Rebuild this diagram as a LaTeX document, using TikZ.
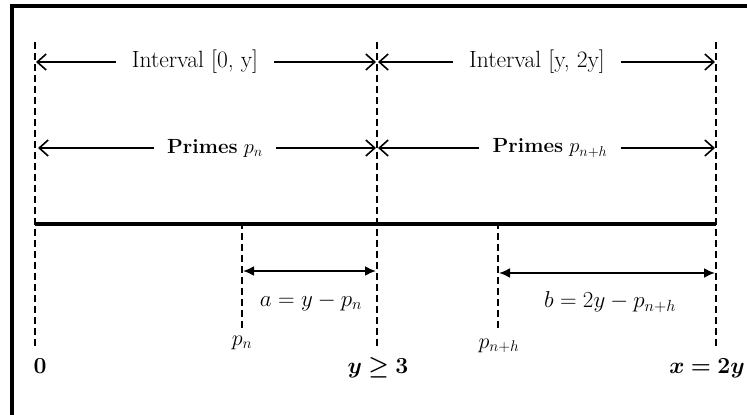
\RequirePackage{fix-cm}
\documentclass[tikz,border=0pt]{standalone}
\usepackage{amsmath}
\usepackage{bm}
\usetikzlibrary{arrows.meta}
\begin{document}
\begin{tikzpicture}[x=1pt,y=-1pt,
  vline/.style={line width=2.4pt,dash pattern=on 7pt off 4pt},
  open/.style={line width=1.4pt,-{Straight Barb[length=9pt,width=16pt,line width=1.6pt]}},
  solid/.style={line width=2pt,{Latex[length=11pt,width=10pt]}-{Latex[length=11pt,width=10pt]}},
  lab/.style={inner sep=0pt,font=\fontsize{23}{27}\selectfont},
  gaplab/.style={inner xsep=16pt,inner ysep=0pt,font=\fontsize{23.5}{27}\selectfont},
  gaplabp/.style={inner xsep=13pt,inner ysep=0pt,font=\fontsize{20.5}{24}\selectfont},
  small/.style={inner sep=0pt,font=\fontsize{22}{26}\selectfont}]
\useasboundingbox (0,0) rectangle (747,415);
% frame (top and left sides visible)
\coordinate (fbl) at (12,415);
\coordinate (ftl) at (12,6);
\coordinate (ftr) at (747,6);
\draw[line width=4pt] (fbl) -- (ftl) -- (ftr);
% vertical dashed lines
\coordinate (v0t) at (35,42);  \coordinate (v0b) at (35,346);
\coordinate (v1t) at (377,42); \coordinate (v1b) at (377,346);
\coordinate (v2t) at (716,42); \coordinate (v2b) at (716,346);
\coordinate (pnt) at (242,222); \coordinate (pnb) at (242,328);
\coordinate (pht) at (498,222); \coordinate (phb) at (498,330);
\draw[vline] (v0t) -- (v0b);
\draw[vline] (v1t) -- (v1b);
\draw[vline] (v2t) -- (v2b);
\draw[vline] (pnt) -- (pnb);
\draw[vline] (pht) -- (phb);
% thick axis
\coordinate (ax0) at (35,224); \coordinate (ax1) at (716,224);
\draw[line width=4.5pt] (ax0) -- (ax1);
% row 1
\coordinate (r1a) at (36,62); \coordinate (r1b) at (376,62);
\coordinate (r1c) at (378,62); \coordinate (r1d) at (715,62);
\node[gaplab] (i1) at (195,62) {Interval [0, y]};
\node[gaplab] (i2) at (537,62) {Interval [y, 2y]};
\draw[open] (i1.west) -- (r1a);
\draw[open] (i1.east) -- (r1b);
\draw[open] (i2.west) -- (r1c);
\draw[open] (i2.east) -- (r1d);
% row 2
\coordinate (r2a) at (38,148); \coordinate (r2b) at (376,148);
\coordinate (r2c) at (378,148); \coordinate (r2d) at (715,148);
\node[gaplabp] (p1) at (215,148) {\textbf{Primes} $p_n$};
\node[gaplabp] (p2) at (550,148) {\textbf{Primes} $p_{n+h}$};
\draw[open] (p1.west) -- (r2a);
\draw[open] (p1.east) -- (r2b);
\draw[open] (p2.west) -- (r2c);
\draw[open] (p2.east) -- (r2d);
% distance arrows
\coordinate (aa) at (243,271); \coordinate (ab) at (376,271);
\coordinate (ba) at (499,273); \coordinate (bb) at (715,273);
\draw[solid] (aa) -- (ab);
\draw[solid] (ba) -- (bb);
\node[lab] (la) at (311,302) {$a = y - p_n$};
\node[lab] (lb) at (610,302) {$b = 2y - p_{n+h}$};
% bottom labels
\node[small] (lpn) at (242,343) {$p_n$};
\node[small] (lph) at (499,346) {$p_{n+h}$};
\node[lab] (l0) at (40,366) {$\bm{0}$};
\node[lab] (ly) at (378,368) {$\bm{y \geq 3}$};
\node[lab,anchor=east] (lx) at (745,368) {$\bm{x = 2y}$};
\end{tikzpicture}
\end{document}
